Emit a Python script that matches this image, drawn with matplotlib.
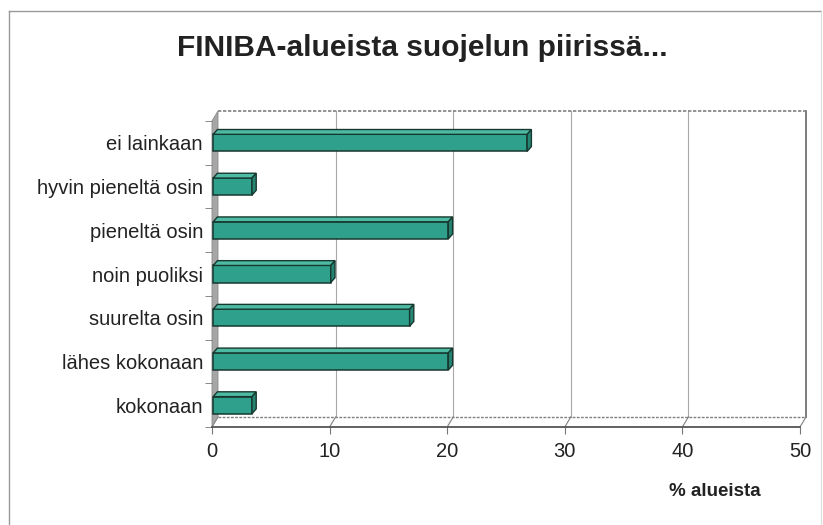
import matplotlib
matplotlib.use("Agg")
import matplotlib.pyplot as plt
from matplotlib.patches import Polygon
from matplotlib.lines import Line2D

# data (% of FINIBA areas)
categories = ["ei lainkaan", "hyvin pieneltä osin", "pieneltä osin", "noin puoliksi",
              "suurelta osin", "lähes kokonaan", "kokonaan"]
values = [26.7, 3.3, 20.0, 10.0, 16.7, 20.0, 3.3]
xticks = [0, 10, 20, 30, 40, 50]

front_col = "#2fa08c"
top_col = "#4dbaa3"
side_col = "#268472"
edge_col = "#17382f"

plt.rcParams["font.family"] = ["Liberation Sans", "DejaVu Sans"]

fig = plt.figure(figsize=(8.23, 5.25), dpi=100)
ax = fig.add_axes([212 / 823, 1 - 427 / 525, 588 / 823, 306 / 525])
ax.set_xlim(0, 50)
ax.set_ylim(6.5, -0.5)

# depth of the back wall, and of each bar (data units)
wdx, wdy = 0.51, 0.23
bdx, bdy = 0.36, 0.11
bh = 0.39

# back wall
ax.add_patch(Polygon([(wdx, 6.5 - wdy), (50 + wdx, 6.5 - wdy), (50 + wdx, -0.5 - wdy),
                      (wdx, -0.5 - wdy)], closed=True, facecolor="white",
                     edgecolor="none", clip_on=False, zorder=0))
for x in xticks[1:-1]:
    ax.add_line(Line2D([x + wdx, x + wdx], [6.5 - wdy, -0.5 - wdy], color="#a8a8a8",
                       lw=0.8, clip_on=False, zorder=1))
ax.add_line(Line2D([50 + wdx, 50 + wdx], [6.5 - wdy, -0.5 - wdy], color="#666666",
                   lw=1.2, clip_on=False, zorder=1))
ax.add_line(Line2D([wdx, 50 + wdx], [-0.5 - wdy, -0.5 - wdy], color="#808080",
                   lw=1.2, ls=(0, (2, 1)), clip_on=False, zorder=1))
ax.add_line(Line2D([wdx, 50 + wdx], [6.5 - wdy, 6.5 - wdy], color="#808080",
                   lw=1.0, ls=(0, (2, 1)), clip_on=False, zorder=1))
# floor diagonals
for x in xticks:
    ax.add_line(Line2D([x, x + wdx], [6.5, 6.5 - wdy], color="#808080", lw=0.8,
                       clip_on=False, zorder=1))
# left wall
ax.add_patch(Polygon([(0, 6.5), (wdx, 6.5 - wdy), (wdx, -0.5 - wdy), (0, -0.5)],
                     closed=True, facecolor="#a6a6a6", edgecolor="#8a8a8a", lw=0.6,
                     clip_on=False, zorder=1))
# front floor edge
ax.add_line(Line2D([0, 50], [6.5, 6.5], color="#555555", lw=1.3, clip_on=False, zorder=2))

# bars
ypos = list(range(len(categories)))
ax.barh(ypos, values, height=bh, left=0.1, color=front_col, edgecolor=edge_col,
        linewidth=1.1, zorder=3)
for y, v in zip(ypos, values):
    y0, y1 = y - bh / 2, y + bh / 2
    xe = v + 0.1
    ax.add_patch(Polygon([(0.1, y0), (xe, y0), (xe + bdx, y0 - bdy), (0.1 + bdx, y0 - bdy)],
                         closed=True, facecolor=top_col, edgecolor=edge_col, lw=1.0, zorder=3))
    ax.add_patch(Polygon([(xe, y0), (xe + bdx, y0 - bdy), (xe + bdx, y1 - bdy), (xe, y1)],
                         closed=True, facecolor=side_col, edgecolor=edge_col, lw=1.0, zorder=3))

for s in ax.spines.values():
    s.set_visible(False)
ax.patch.set_alpha(0)

ax.set_yticks(ypos)
ax.set_yticklabels(categories, fontsize=14.5, color="#222222")
ax.set_yticks([y - 0.5 for y in ypos] + [6.5], minor=True)
ax.tick_params(axis="y", which="major", length=0, pad=6.5)
ax.tick_params(axis="y", which="minor", length=5, color="#777777", direction="out")
ax.set_xticks(xticks)
ax.set_xticklabels([str(t) for t in xticks], fontsize=14.5, color="#222222")
ax.tick_params(axis="x", length=5, color="#777777", direction="out", pad=6)

fig.text(0.5 * (180 + 665) / 823, 1 - 48 / 525, "FINIBA-alueista suojelun piirissä...",
         ha="center", va="center", fontsize=21.5, fontweight="bold", color="#222222")
fig.text(715 / 823, 1 - 492 / 525, "% alueista", ha="center", va="center",
         fontsize=13.5, fontweight="bold", color="#222222")

# outer frame
fig.add_artist(Line2D([9 / 823, 9 / 823], [0, 1 - 11 / 525], transform=fig.transFigure,
                      color="#999999", lw=1.0))
fig.add_artist(Line2D([9 / 823, 821 / 823], [1 - 11 / 525, 1 - 11 / 525],
                      transform=fig.transFigure, color="#999999", lw=1.0))
fig.add_artist(Line2D([821 / 823, 821 / 823], [0, 1 - 11 / 525], transform=fig.transFigure,
                      color="#dddddd", lw=0.8))

fig.savefig("out.png", dpi=100)
